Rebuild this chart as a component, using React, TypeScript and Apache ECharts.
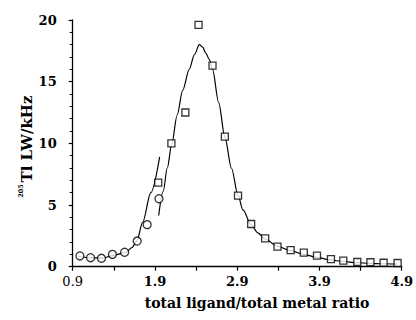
import React, { useEffect, useRef } from "react";
import * as echarts from "echarts";

// Measured line widths (low-ratio branch, circles)
const circleX = [0.988, 1.117, 1.25, 1.383, 1.531, 1.684, 1.805, 1.949];
const circleY = [0.87, 0.73, 0.68, 1.0, 1.17, 2.08, 3.41, 5.51];

// Measured line widths (high-ratio branch, squares)
const squareX = [1.94, 2.1, 2.27, 2.43, 2.6, 2.75, 2.91, 3.07, 3.24, 3.39, 3.55, 3.71, 3.87, 4.04, 4.19, 4.36, 4.52, 4.68, 4.85];
const squareY = [6.81, 10.0, 12.5, 19.6, 16.3, 10.55, 5.76, 3.46, 2.3, 1.62, 1.35, 1.14, 0.89, 0.62, 0.49, 0.38, 0.36, 0.32, 0.3];

// Fitted curve through the low-ratio points
const fitLowX = [0.97, 1.12, 1.26, 1.4, 1.54, 1.62, 1.68, 1.75, 1.85, 1.957];
const fitLowY = [0.85, 0.72, 0.7, 0.92, 1.15, 1.55, 2.1, 3.6, 6.0, 8.9];

// Fitted curve through the high-ratio points
const fitHighX = [1.945, 2.0, 2.05, 2.105, 2.17, 2.237, 2.317, 2.38, 2.44, 2.48, 2.52, 2.56, 2.6, 2.675, 2.75, 2.83, 2.91, 2.97, 3.07, 3.15, 3.24, 3.39, 3.55, 3.71, 3.87, 4.03, 4.19, 4.35, 4.51, 4.67, 4.84];
const fitHighY = [4.15, 6.1, 8.0, 9.97, 12.3, 14.3, 16.0, 17.2, 18.0, 17.8, 17.3, 16.8, 16.0, 13.3, 10.5, 8.0, 5.8, 4.6, 3.4, 2.75, 2.25, 1.65, 1.3, 1.0, 0.75, 0.55, 0.42, 0.33, 0.27, 0.24, 0.21];

const xLabels = ["0.9", "1.9", "2.9", "3.9", "4.9"];
const yLabels = ["0", "5", "10", "15", "20"];

const zip = (xs: number[], ys: number[]) => xs.map((x, i) => [x, ys[i]]);

const FONT = "DejaVu Serif";

export default function App() {
  const ref = useRef<HTMLDivElement>(null);

  useEffect(() => {
    if (!ref.current) return;
    const chart = echarts.init(ref.current, undefined, { renderer: "svg" });
    chart.setOption({
      animation: false,
      backgroundColor: "#ffffff",
      grid: { left: 72.7, right: 11.7, top: 20, bottom: 53.3 },
      xAxis: {
        type: "value",
        min: 0.9,
        max: 4.9,
        interval: 0.5,
        axisLine: { lineStyle: { color: "#000", width: 1.3 } },
        axisTick: { inside: false, length: 4, lineStyle: { color: "#000", width: 1.2 } },
        splitLine: { show: false },
        axisLabel: {
          margin: 8,
          color: "#000",
          fontFamily: FONT,
          fontSize: 13,
          fontWeight: "bold",
          formatter: (v: number) => {
            const s = (Math.round(v * 10) / 10).toFixed(1);
            if (!xLabels.includes(s)) return "";
            return s === "0.9" ? "{n|" + s + "}" : s;
          },
          rich: { n: { fontFamily: FONT, fontSize: 13, fontWeight: "normal", color: "#000" } },
        },
      },
      yAxis: {
        type: "value",
        min: 0,
        max: 20,
        interval: 5,
        axisLine: { show: true, lineStyle: { color: "#000", width: 1.3 } },
        axisTick: { show: true, length: 4, lineStyle: { color: "#000", width: 1.2 } },
        minorTick: { show: true, splitNumber: 5, length: 3, lineStyle: { color: "#000", width: 1 } },
        splitLine: { show: false },
        axisLabel: {
          margin: 16,
          color: "#000",
          fontFamily: FONT,
          fontSize: 13,
          fontWeight: "bold",
          formatter: (v: number) => (yLabels.includes(String(v)) ? String(v) : ""),
        },
      },
      graphic: [
        {
          type: "text",
          x: 257,
          y: 303,
          style: {
            text: "total ligand/total metal ratio",
            fontFamily: FONT,
            fontSize: 14,
            fontWeight: "bold",
            fill: "#000",
            align: "center",
            verticalAlign: "middle",
          },
        },
        {
          type: "group",
          x: 27,
          y: 139,
          rotation: Math.PI / 2,
          children: [
            {
              type: "text",
              x: 0,
              y: 0,
              style: {
                text: "Tl LW/kHz",
                fontFamily: FONT,
                fontSize: 15,
                fontWeight: "bold",
                fill: "#000",
                align: "center",
                verticalAlign: "middle",
              },
            },
            {
              type: "text",
              x: -52,
              y: -6,
              style: {
                text: "205",
                fontFamily: FONT,
                fontSize: 6.5,
                fontWeight: "bold",
                fill: "#000",
                align: "center",
                verticalAlign: "middle",
              },
            },
          ],
        },
      ],
      series: [
        {
          type: "line",
          data: zip(fitLowX, fitLowY),
          smooth: 0.3,
          smoothMonotone: "x",
          showSymbol: false,
          symbol: "none",
          lineStyle: { color: "#000", width: 1.2 },
          z: 2,
        },
        {
          type: "line",
          data: zip(fitHighX, fitHighY),
          smooth: 0.3,
          smoothMonotone: "x",
          showSymbol: false,
          symbol: "none",
          lineStyle: { color: "#000", width: 1.2 },
          z: 2,
        },
        {
          type: "scatter",
          data: zip(circleX, circleY),
          symbol: "circle",
          symbolSize: 8,
          itemStyle: { color: "#fff", borderColor: "#000", borderWidth: 1.3 },
          z: 3,
        },
        {
          type: "scatter",
          data: zip(squareX, squareY),
          symbol: "rect",
          symbolSize: 7,
          itemStyle: { color: "#fff", borderColor: "#000", borderWidth: 1.3 },
          z: 3,
        },
      ],
    });
    return () => chart.dispose();
  }, []);

  return <div ref={ref} style={{ width: 416, height: 320, position: "absolute", left: 0, top: 0 }} />;
}
